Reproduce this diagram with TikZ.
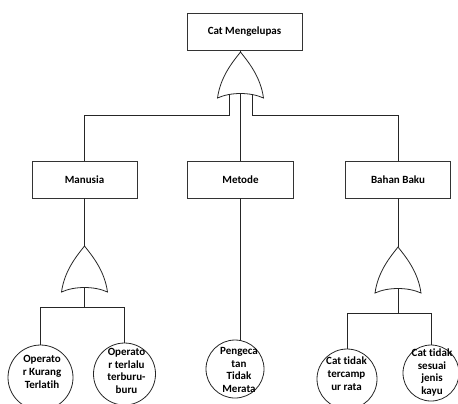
\documentclass[tikz,border=0pt]{standalone}
\usepackage{fontspec}
\setmainfont{Carlito}[Ligatures={NoCommon}]
\tikzset{
  link/.style={draw=black!85, line width=0.8bp},
  box/.style={draw=black!80, line width=0.8bp, minimum width=105bp, minimum height=37bp,
    inner sep=0pt, font=\fontsize{11bp}{12.5bp}\selectfont\bfseries},
  event/.style={circle, draw=black!85, line width=0.8bp, inner sep=0pt},
  eventtext/.style={align=center, inner sep=0pt,
    font=\fontsize{11bp}{12.8bp}\selectfont\bfseries},
  orgate/.pic={
    \draw[link, fill=white] (0,0) .. controls (-7,9) and (-20,24) .. (-23,46)
      .. controls (-10,40) and (10,40) .. (23,46)
      .. controls (20,24) and (7,9) .. (0,0) -- cycle;
    \coordinate (-apex) at (0,0);
    \coordinate (-in) at (0,41.5);
    \coordinate (-inL) at (-11.5,42.6);
    \coordinate (-inR) at (11.5,42.6);
  }
}
\begin{document}
\begin{tikzpicture}[x=1bp,y=-1bp]
  \useasboundingbox (0,0) rectangle (458,403);
  \clip (0,0) rectangle (458,403);

  % events
  \node[box, minimum width=115bp] (top) at (244.5,31.5) {Cat Mengelupas};
  \node[box] (man) at (84.5,179.5) {Manusia};
  \node[box, minimum width=106bp] (met) at (240.5,179.5) {Metode};
  \node[box] (bah) at (398,179.5) {Bahan Baku};

  % OR gates
  \pic (g1) at (240.5,52) {orgate};
  \pic (g2) at (84.5,246) {orgate};
  \pic (g3) at (398,247) {orgate};

  % branch levels
  \coordinate (bus1) at (240.5,115);
  \coordinate (bus2) at (84.5,307);
  \coordinate (bus3) at (398,313);

  % basic events
  \node[event, minimum size=65bp] (c1) at (40.5,377.5) {};
  \node[event, minimum size=62bp] (c2) at (124.5,374) {};
  \node[event, minimum size=58bp] (c3) at (235,369) {};
  \node[event, minimum size=60bp] (c4) at (347,379) {};
  \node[event, minimum size=56bp] (c5) at (431,373) {};

  \node[eventtext] (t1) at (42,372) {Operato\\r Kurang\\Terlatih};
  \node[eventtext] (t2) at (126.5,371) {Operato\\r terlalu\\terburu-\\buru};
  \node[eventtext] (t3) at (239,370) {Pengeca\\tan\\Tidak\\Merata};
  \node[eventtext] (t4) at (346.5,373.5) {Cat tidak\\tercamp\\ur rata};
  \node[eventtext] (t5) at (432,372.5) {Cat tidak\\sesuai\\jenis\\kayu};

  % connectors
  \draw[link] (g1-apex) -- (g1-apex |- top.south);
  \draw[link] (g1-inL) -- (g1-inL |- bus1) -| (man.north);
  \draw[link] (g1-inR) -- (g1-inR |- bus1) -| (bah.north);
  \draw[link] (g1-in) -- (met.north);

  \draw[link] (man.south) -- (g2-apex);
  \draw[link] (g2-in) -- (bus2);
  \draw[link] (bus2) -| (c1.north);
  \draw[link] (bus2) -| (c2.north);

  \draw[link] (met.south) -- (met.south |- c3.north);

  \draw[link] (bah.south) -- (g3-apex);
  \draw[link] (g3-in) -- (bus3);
  \draw[link] (bus3) -| (c4.north);
  \draw[link] (bus3) -| (c5.north);
\end{tikzpicture}
\end{document}
